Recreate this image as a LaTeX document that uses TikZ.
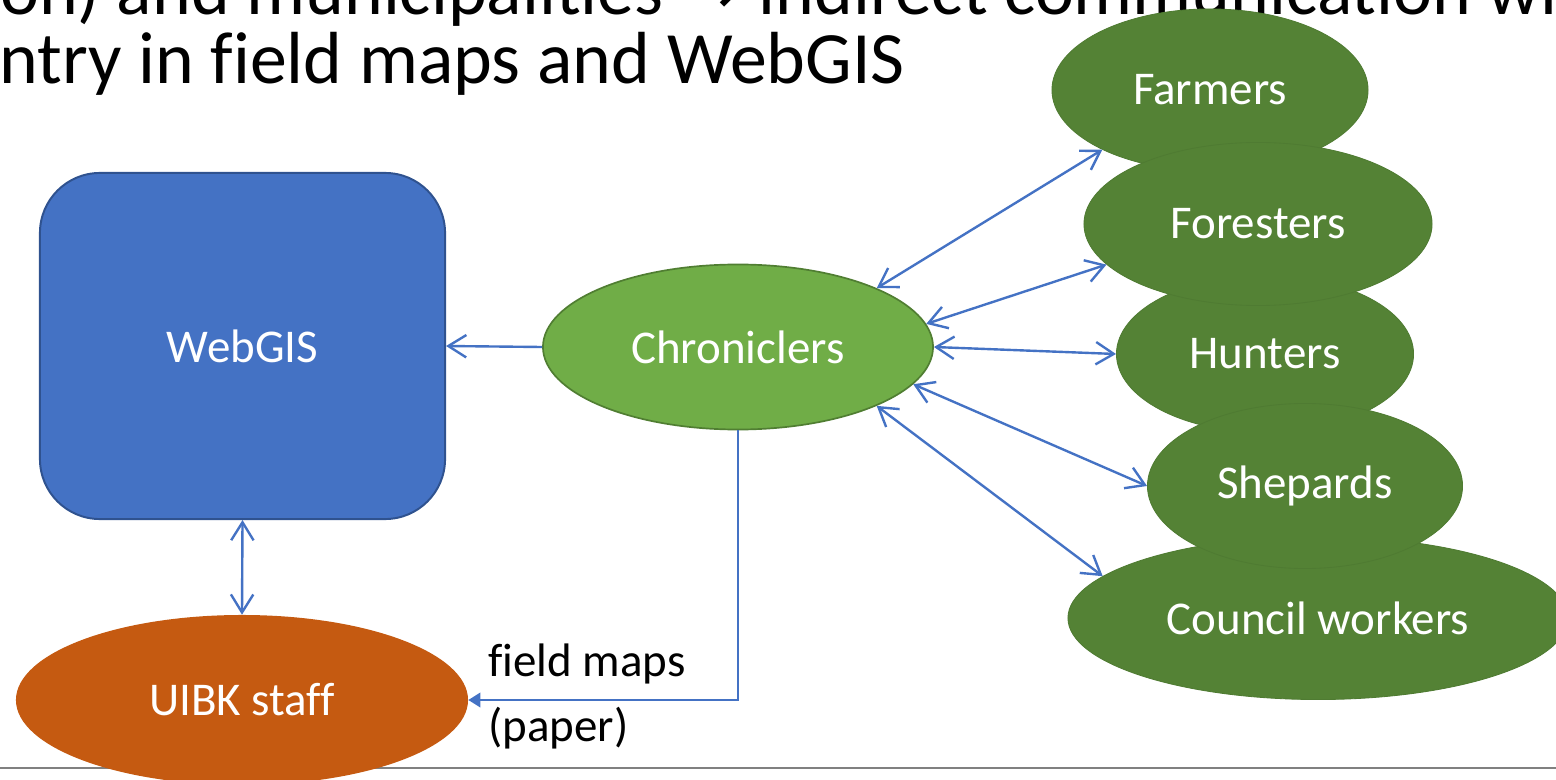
\documentclass[tikz,border=0pt]{standalone}
\usepackage{fontspec}
\setmainfont{Carlito}[Ligatures=NoCommon]
\newfontfamily\arrowfont{DejaVu Sans}
\usetikzlibrary{arrows.meta,positioning,shapes.geometric}
\definecolor{Steel}{HTML}{4472C4}
\definecolor{SteelDark}{HTML}{2F528F}
\definecolor{Leaf}{HTML}{70AD47}
\definecolor{LeafDark}{HTML}{507E32}
\definecolor{Moss}{HTML}{548235}
\definecolor{MossEdge}{HTML}{4F7B32}
\definecolor{Rust}{HTML}{C55A11}
\definecolor{Footer}{HTML}{808080}
\tikzset{
  labelfont/.style={font=\fontsize{33.4}{40}\selectfont},
  gisbox/.style={draw=SteelDark,fill=Steel,line width=1.4pt,rounded corners=1.5cm,text=white,labelfont,inner sep=0pt},
  hub/.style={ellipse,draw=LeafDark,fill=Leaf,line width=1.2pt,text=white,labelfont,inner sep=0pt},
  actor/.style={ellipse,draw=MossEdge,fill=Moss,line width=.6pt,text=white,labelfont,inner sep=0pt},
  staff/.style={ellipse,fill=Rust,text=white,labelfont,inner sep=0pt},
  note/.style={labelfont,text=black,inner sep=0pt},
  heading/.style={font=\fontsize{52.5}{50}\selectfont,text=black,inner sep=0pt},
  link/.style={{Straight Barb[length=.45cm,width=.56cm]}-{Straight Barb[length=.45cm,width=.56cm]},draw=Steel,line width=1.7pt},
  onelink/.style={-{Straight Barb[length=.45cm,width=.56cm]},draw=Steel,line width=1.7pt},
  paperlink/.style={-{Triangle[length=.3cm,width=.36cm]},draw=Steel,line width=1.7pt}
}
\begin{document}
\begin{tikzpicture}[x=.025cm,y=-.025cm]
  \useasboundingbox (0,0) rectangle (1556,780);
  % heading, cut by the slide edge
  \node[heading,anchor=base west] (headone) at (0,15) {on) and municipalities {\arrowfont →} indirect communication with};
  \node[heading,anchor=base west] (headtwo) at (-1,84) {ntry in field maps and WebGIS};
  % footer rule
  \draw[Footer,line width=1.4pt] (0,768) -- (1556,768);
  \node[gisbox,minimum width=10.125cm,minimum height=8.65cm] (webgis) at (242.5,346) {WebGIS};
  \node[hub,minimum width=9.75cm,minimum height=4.125cm] (chron) at (738,347) {Chroniclers};
  \node[staff,minimum width=11.3cm,minimum height=4.25cm] (uibk) at (242,700) {UIBK staff};
  \node[actor,minimum width=7.9cm,minimum height=4.05cm] (farmers) at (1210,90) {Farmers};
  \node[actor,minimum width=7.425cm,minimum height=3.925cm] (hunters) at (1265,354) {Hunters};
  \node[actor,minimum width=8.7cm,minimum height=4.075cm] (foresters) at (1258,224) {Foresters};
  \node[actor,minimum width=12.5cm,minimum height=4.075cm] (council) at (1318,618) {Council workers};
  \node[actor,minimum width=7.875cm,minimum height=4.125cm] (shepards) at (1305,486) {Shepards};
  \node[note,anchor=base west] (fieldmaps) at (488,676) {field maps};
  \node[note,anchor=base west] (paper) at (488,741) {(paper)};
  \draw[onelink] (chron.west) -- (webgis.east);
  \draw[link] (webgis.south) -- (uibk.north);
  \draw[paperlink] (chron.south) |- (uibk.east);
  \draw[link] (chron.23) -- (farmers.209);
  \draw[link] (chron.7) -- (foresters.195);
  \draw[link] (chron.east) -- (hunters.west);
  \draw[link] (chron.348) -- (shepards.west);
  \draw[link] (chron.337) -- (council.169);
\end{tikzpicture}
\end{document}
